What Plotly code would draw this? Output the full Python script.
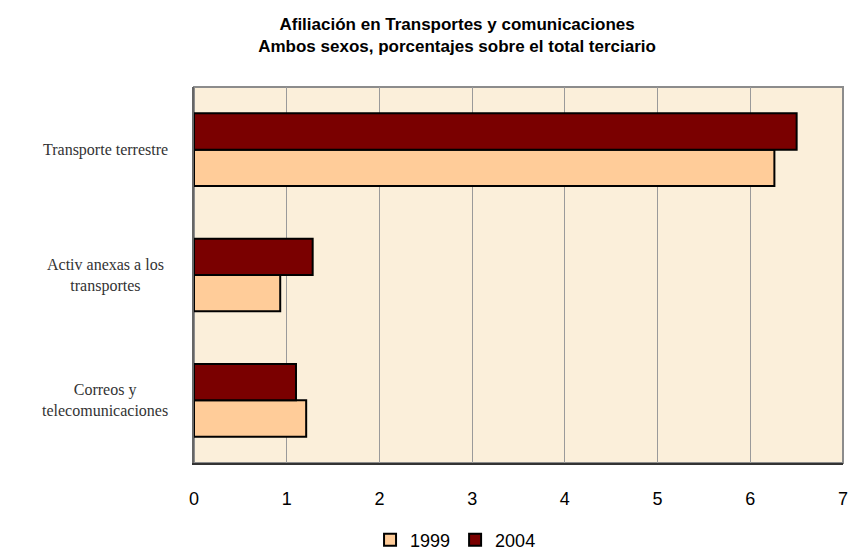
"""
Afiliación en Transportes y comunicaciones - barras horizontales
"""
import plotly.graph_objects as go

# Datos (porcentajes sobre el total terciario)
categorias = ["Transporte terrestre", "Activ anexas a los<br>transportes", "Correos y<br>telecomunicaciones"]
valores_1999 = [6.26, 0.93, 1.21]
valores_2004 = [6.50, 1.28, 1.10]
ticks_x = [0, 1, 2, 3, 4, 5, 6, 7]

# orden de abajo hacia arriba para que el primer grupo quede arriba
orden_y = categorias[::-1]

fig = go.Figure()

fig.add_trace(go.Bar(
    y=categorias, x=valores_1999, name="1999", orientation="h",
    marker=dict(color="#FFCC99", line=dict(color="#000000", width=2)),
))
fig.add_trace(go.Bar(
    y=categorias, x=valores_2004, name="2004", orientation="h",
    marker=dict(color="#7A0000", line=dict(color="#000000", width=2)),
))

# etiquetas de categoría centradas a la izquierda del gráfico
for cat in categorias:
    fig.add_annotation(
        x=-0.137, xref="paper", y=cat, yref="y",
        text=cat, showarrow=False, xanchor="center", align="center",
        font=dict(family="Liberation Serif", size=16, color="#333333"),
    )

fig.update_layout(
    width=848, height=551,
    margin=dict(l=194, r=5, t=87, b=88, autoexpand=False),
    paper_bgcolor="white",
    plot_bgcolor="#FBEFDA",
    barmode="group",
    bargap=0.42,
    bargroupgap=0,
    title=dict(
        text="Afiliación en Transportes y comunicaciones<br>Ambos sexos, porcentajes sobre el total terciario",
        x=0.539, xanchor="center", yref="container", y=0.946, yanchor="middle",
        font=dict(family="Arial", size=17, color="#000000", weight="bold"),
    ),
    xaxis=dict(
        range=[0, 7], tickvals=ticks_x, showgrid=True, gridcolor="#9A9A9A", gridwidth=1,
        showline=True, linecolor="#333333", linewidth=2, zeroline=False,
        ticks="", ticklen=0, tickfont=dict(family="Arial", size=18, color="#000000"),
        ticklabelstandoff=18, automargin=False, ticklabeloverflow="allow",
    ),
    yaxis=dict(
        categoryorder="array", categoryarray=orden_y,
        showticklabels=False, showgrid=False, zeroline=False,
        showline=True, linecolor="#666666", linewidth=2, automargin=False,
    ),
    legend=dict(
        orientation="h", x=0.403, xanchor="center", y=-0.205, yanchor="middle",
        font=dict(family="Arial", size=18, color="#000000"),
        traceorder="normal", itemwidth=30,
    ),
    shapes=[dict(
        type="rect", xref="paper", yref="paper", x0=0, x1=1, y0=0, y1=1,
        line=dict(color="#8C8C8C", width=2), layer="below",
    )],
)

# sin margen del body para que el gráfico empiece en (0, 0)
fig.write_html(
    "out.html",
    config={"displayModeBar": False},
    post_script="document.body.style.margin='0';",
)
